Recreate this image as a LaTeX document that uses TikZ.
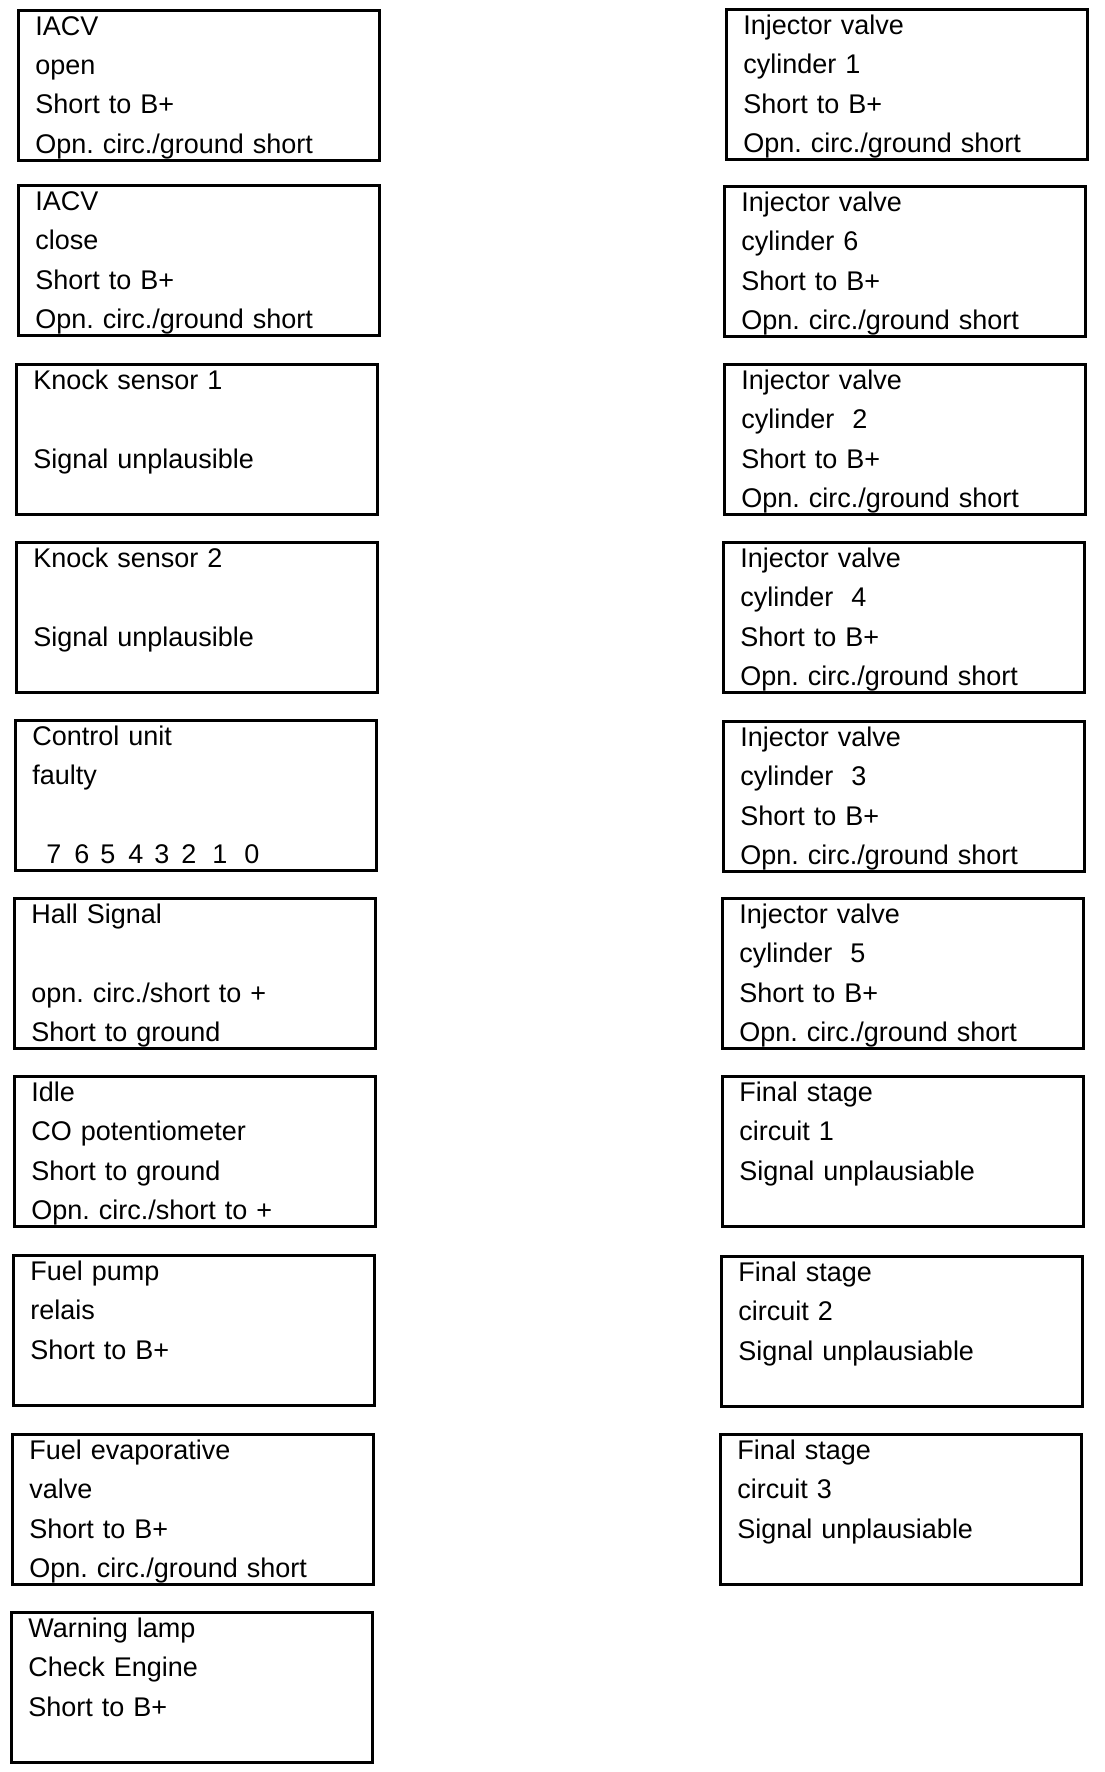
\documentclass[tikz,border=0pt]{standalone}
\usepackage{fontspec}
\usepackage{tikz}
\usetikzlibrary{positioning}
\newfontfamily\panelfam{Liberation Sans}

\begin{document}
\begin{tikzpicture}[
  x=1pt, y=-1pt,
  panel/.style={draw, line width=2.8pt, anchor=north west, align=left,
    inner xsep=17pt, inner ysep=0pt, text width=327pt,
    text height=25pt, text depth=125pt,
    font=\panelfam\fontsize{27pt}{39.3pt}\selectfont\frenchspacing},
  digit/.style={anchor=base, inner sep=0pt, font=\panelfam\fontsize{27pt}{39.3pt}\selectfont}
]
  \useasboundingbox (0,0) rectangle (1104,1772);

  % Left column
  \node[panel] (iacvopen) at (17, 9) {IACV\\open\\Short to B+\\Opn. circ./ground short};
  \node[panel] (iacvclose) at (17, 184) {IACV\\close\\Short to B+\\Opn. circ./ground short};
  \node[panel] (knockone) at (15, 363) {Knock sensor 1\\\mbox{}\\Signal unplausible};
  \node[panel] (knocktwo) at (15, 541) {Knock sensor 2\\\mbox{}\\Signal unplausible};
  \node[panel] (ctrl) at (14, 719) {Control unit\\faulty};
  \node[panel] (hall) at (13, 897) {Hall Signal\\\mbox{}\\opn. circ./short to +\\Short to ground};
  \node[panel] (idle) at (13, 1075) {Idle\\CO potentiometer\\Short to ground\\Opn. circ./short to +};
  \node[panel] (fuelpump) at (12, 1254) {Fuel pump\\relais\\Short to B+};
  \node[panel] (evap) at (11, 1433) {Fuel evaporative\\valve\\Short to B+\\Opn. circ./ground short};
  \node[panel] (lamp) at (10, 1611) {Warning lamp\\Check Engine\\Short to B+};

  % Control unit bit numbers
  \foreach \d/\dx in {7/40,6/68,5/94,4/122,3/148,2/175,1/206,0/238}
    \node[digit] (bit\d) at ([xshift=\dx pt, yshift=-144pt]ctrl.north west) {\d};

  % Right column
  \node[panel] (injone) at (725, 8) {Injector valve\\cylinder 1\\Short to B+\\Opn. circ./ground short};
  \node[panel] (injsix) at (723, 185) {Injector valve\\cylinder 6\\Short to B+\\Opn. circ./ground short};
  \node[panel] (injtwo) at (723, 363) {Injector valve\\cylinder\ \ 2\\Short to B+\\Opn. circ./ground short};
  \node[panel] (injfour) at (722, 541) {Injector valve\\cylinder\ \ 4\\Short to B+\\Opn. circ./ground short};
  \node[panel] (injthree) at (722, 720) {Injector valve\\cylinder\ \ 3\\Short to B+\\Opn. circ./ground short};
  \node[panel] (injfive) at (721, 897) {Injector valve\\cylinder\ \ 5\\Short to B+\\Opn. circ./ground short};
  \node[panel] (stageone) at (721, 1075) {Final stage\\circuit 1\\Signal unplausiable};
  \node[panel] (stagetwo) at (720, 1255) {Final stage\\circuit 2\\Signal unplausiable};
  \node[panel] (stagethree) at (719, 1433) {Final stage\\circuit 3\\Signal unplausiable};

\end{tikzpicture}
\end{document}
